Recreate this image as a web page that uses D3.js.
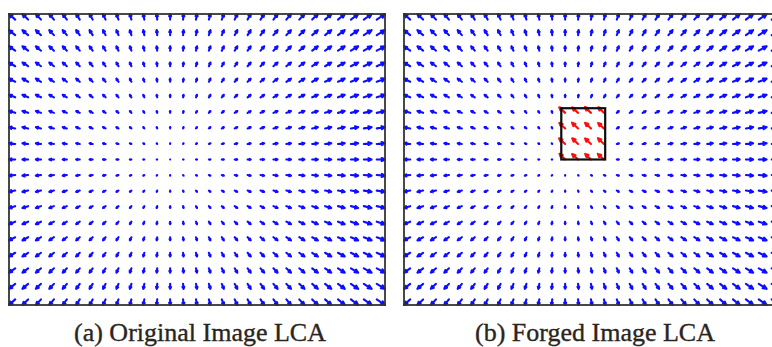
<!DOCTYPE html>
<html lang="en">
  <head>
    <meta charset="utf-8">
    <title>LCA quiver plots</title>
    <script src="https://d3js.org/d3.v7.min.js"></script>
    <style>
      body { margin: 0; background: #fff; }
      svg { display: block; }
    </style>
  </head>

  <body>
    <svg id="chart" width="772" height="347"></svg>
    <script type="text/javascript">

        // grid: 29 columns x 19 rows, same in both plots
        var cols = d3.range(1, 30);
        var rows = d3.range(1, 20);

        // horizontal displacement per column (in column units)
        var colU = [-0.48, -0.44, -0.40, -0.36, -0.32, -0.28, -0.24, -0.20, -0.16, -0.12,
                    -0.08, -0.04, 0.00, 0.04, 0.08, 0.12, 0.16, 0.20, 0.24, 0.28,
                    0.32, 0.36, 0.40, 0.44, 0.48, 0.52, 0.56, 0.60, 0.64];

        // vertical displacement per row (row units, downward positive)
        var rowV = [-0.36, -0.32, -0.28, -0.24, -0.20, -0.16, -0.12, -0.08, -0.04, 0.00,
                    0.04, 0.08, 0.12, 0.16, 0.20, 0.24, 0.28, 0.32, 0.36];

        // forged block in plot (b): columns 13-16, rows 7-10
        var redCols = [13, 14, 15, 16];
        var redRows = [7, 8, 9, 10];
        var redU = [-0.46, -0.45, -0.47, -0.44,
                    -0.45, -0.47, -0.46, -0.45,
                    -0.47, -0.45, -0.46, -0.46,
                    -0.44, -0.46, -0.45, -0.47];
        var redV = [-0.36, -0.35, -0.37, -0.36,
                    -0.35, -0.37, -0.36, -0.35,
                    -0.36, -0.36, -0.35, -0.37,
                    -0.37, -0.35, -0.36, -0.36];

        // black box around the forged block
        var boxX = [12.7, 16.1];
        var boxY = [6.7, 10.0];

        var captions = ["(a) Original Image LCA", "(b) Forged Image LCA"];

        var svg = d3.select("#chart");

        // soft look of the scanned figure
        svg.append("defs").append("filter").attr("id", "soft")
            .append("feGaussianBlur").attr("stdDeviation", 0.45);

        var panelLeft = [9, 404];
        var panelW = 376, panelTop = 14, panelH = 291;

        // axis tight around the arrow heads (like matlab)
        var xDom = [1 + d3.min(colU), 29 + d3.max(colU)];
        var yDom = [1 + d3.min(rowV), 19 + d3.max(rowV)];

        function arrowPath(x, y, x2, y2) {
          var dx = x2 - x, dy = y2 - y;
          var a = 0.4, b = 0.45;
          var h1x = x2 - a * (dx + b * dy), h1y = y2 - a * (dy - b * dx);
          var h2x = x2 - a * (dx - b * dy), h2y = y2 - a * (dy + b * dx);
          return "M" + x + "," + y + "L" + x2 + "," + y2 +
                 "M" + h1x + "," + h1y + "L" + x2 + "," + y2 + "L" + h2x + "," + h2y;
        }

        panelLeft.forEach(function(left, p) {
          var xs = d3.scaleLinear().domain(xDom).range([left, left + panelW]);
          var ys = d3.scaleLinear().domain(yDom).range([panelTop, panelTop + panelH]);

          var g = svg.append("g").attr("filter", "url(#soft)");

          // build the vector list
          var vecs = [];
          rows.forEach(function(r, j) {
            cols.forEach(function(c, i) {
              var red = p == 1 && redCols.indexOf(c) >= 0 && redRows.indexOf(r) >= 0;
              if (!red) vecs.push({x: c, y: r, u: colU[i], v: rowV[j], color: "#0d0dff"});
            });
          });
          if (p == 1) {
            redRows.forEach(function(r, j) {
              redCols.forEach(function(c, i) {
                var k = j * 4 + i;
                vecs.push({x: c, y: r, u: redU[k], v: redV[k], color: "#ff0a0a"});
              });
            });
          }

          g.selectAll("path.arrow")
              .data(vecs)
            .enter().append("path")
              .attr("class", "arrow")
              .attr("d", function(d) {
                return arrowPath(xs(d.x), ys(d.y), xs(d.x + d.u), ys(d.y + d.v));
              })
              .attr("fill", "none")
              .attr("stroke", function(d) { return d.color; })
              .attr("stroke-width", 2.1)
              .attr("stroke-linecap", "round")
              .attr("stroke-linejoin", "round");

          if (p == 1) {
            g.append("rect")
                .attr("x", xs(boxX[0])).attr("y", ys(boxY[0]))
                .attr("width", xs(boxX[1]) - xs(boxX[0]))
                .attr("height", ys(boxY[1]) - ys(boxY[0]))
                .attr("fill", "none")
                .attr("stroke", "#111")
                .attr("stroke-width", 2.2);
          }

          // axes box
          g.append("rect")
              .attr("x", left).attr("y", panelTop)
              .attr("width", panelW).attr("height", panelH)
              .attr("fill", "none")
              .attr("stroke", "#333")
              .attr("stroke-width", 1.8);

          svg.append("text")
              .attr("x", left + panelW / 2 + 3)
              .attr("y", 341)
              .attr("text-anchor", "middle")
              .attr("font-family", "Liberation Serif, Times New Roman, serif")
              .attr("font-size", 26)
              .attr("fill", "#2a2520")
              .attr("stroke", "#2a2520")
              .attr("stroke-width", 0.35)
              .text(captions[p]);
        });

    </script>
</body>
</html>
